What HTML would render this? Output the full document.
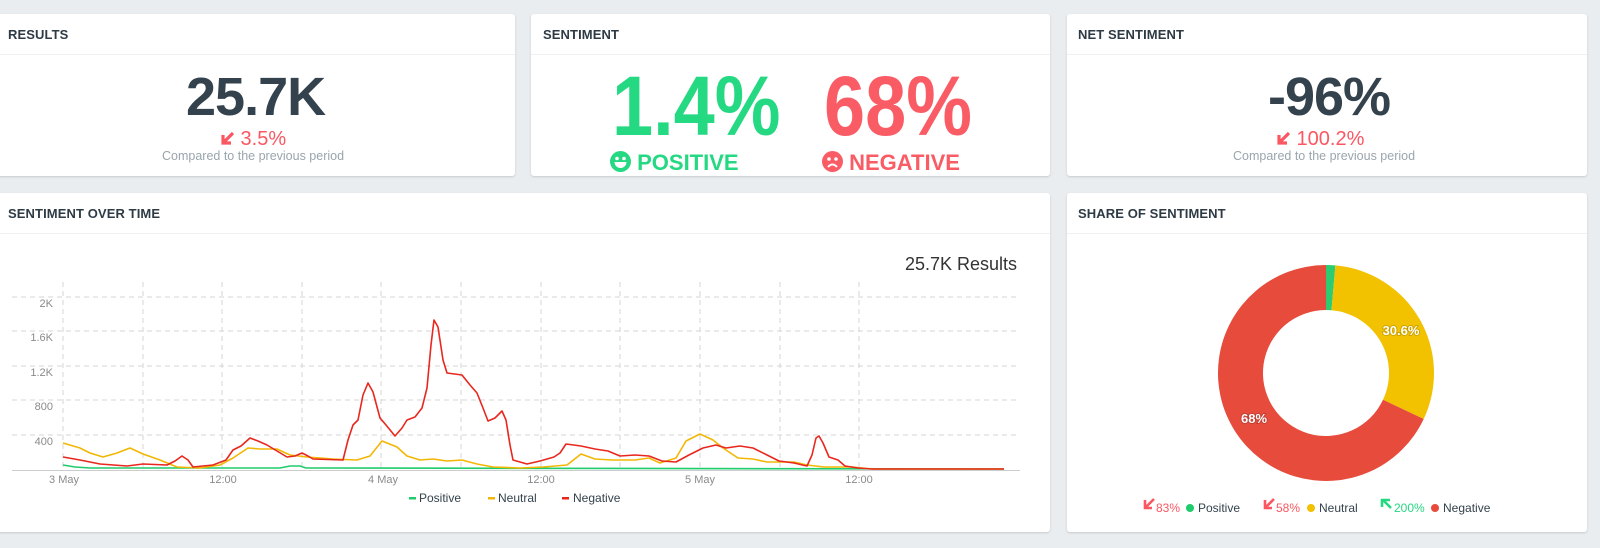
<!DOCTYPE html>
<html><head><meta charset="utf-8"><style>
*{margin:0;padding:0;box-sizing:border-box}
body{width:1600px;height:548px;background:#e9edf0;font-family:"Liberation Sans",sans-serif;position:relative;overflow:hidden}
.card{position:absolute;background:#fff;border-radius:3px;box-shadow:0 1px 2px rgba(0,0,0,.15)}
.hd{position:absolute;left:0;right:0;top:0;height:41px;border-bottom:1px solid #eef0f2}
.ttl{position:absolute;font-size:13px;font-weight:bold;color:#2e3b45;letter-spacing:.1px}
.abs{position:absolute;white-space:nowrap}
.big{font-weight:bold;color:#33424c;font-size:54px;letter-spacing:-1px}
.cmp{font-size:12.5px;color:#9aa5ae}
.chg{font-size:20px;color:#fa5762}
.huge{font-weight:bold;font-size:84px;transform:scaleX(0.88);transform-origin:0 0}
.lbl{font-size:22px;font-weight:bold}
</style></head><body>

<div class="card" style="left:-4px;top:14px;width:519px;height:162px"><div class="hd"></div></div>
<div class="card" style="left:531px;top:14px;width:519px;height:162px"><div class="hd"></div></div>
<div class="card" style="left:1067px;top:14px;width:520px;height:162px"><div class="hd"></div></div>
<div class="card" style="left:-4px;top:193px;width:1054px;height:339px"><div class="hd"></div></div>
<div class="card" style="left:1067px;top:193px;width:520px;height:339px"><div class="hd"></div></div>

<div class="ttl abs" style="left:8px;top:27px">RESULTS</div>
<div class="ttl abs" style="left:543px;top:27px">SENTIMENT</div>
<div class="ttl abs" style="left:1078px;top:27px">NET SENTIMENT</div>
<div class="ttl abs" style="left:8px;top:206px">SENTIMENT OVER TIME</div>
<div class="ttl abs" style="left:1078px;top:206px">SHARE OF SENTIMENT</div>

<!-- Results -->
<div class="abs big" style="left:186px;top:66px">25.7K</div>
<div class="abs chg" style="left:220px;top:128px"><svg width="15" height="15" viewBox="0 0 15 15" style="vertical-align:-1px"><path d="M13 2 L4 11 M3 4 V12 H11" stroke="#fa5762" stroke-width="3.2" fill="none"/></svg> 3.5%</div>
<div class="abs cmp" style="left:162px;top:149px">Compared to the previous period</div>

<!-- Sentiment -->
<div class="abs huge" style="left:612px;top:58px;color:#25d882">1.4%</div>
<div class="abs huge" style="left:824px;top:58px;color:#fa5c66">68%</div>
<div class="abs lbl" style="left:610px;top:150px;color:#25d882"><svg width="21" height="21" viewBox="0 0 21 21" style="vertical-align:-2px"><circle cx="10.5" cy="10.5" r="10.5" fill="#25d882"/><circle cx="7" cy="7.5" r="1.8" fill="#fff"/><circle cx="14" cy="7.5" r="1.8" fill="#fff"/><path d="M4.5 11 H16.5 A6 6 0 0 1 4.5 11Z" fill="#fff"/></svg> POSITIVE</div>
<div class="abs lbl" style="left:822px;top:150px;color:#fa5c66"><svg width="21" height="21" viewBox="0 0 21 21" style="vertical-align:-2px"><circle cx="10.5" cy="10.5" r="10.5" fill="#fa5c66"/><circle cx="7" cy="8" r="1.8" fill="#fff"/><circle cx="14" cy="8" r="1.8" fill="#fff"/><path d="M6 16 Q10.5 11 15 16" stroke="#fff" stroke-width="2" fill="none"/></svg> NEGATIVE</div>

<!-- Net -->
<div class="abs big" style="left:1268px;top:66px">-96%</div>
<div class="abs chg" style="left:1276px;top:128px"><svg width="15" height="15" viewBox="0 0 15 15" style="vertical-align:-1px"><path d="M13 2 L4 11 M3 4 V12 H11" stroke="#fa5762" stroke-width="3.2" fill="none"/></svg> 100.2%</div>
<div class="abs cmp" style="left:1233px;top:149px">Compared to the previous period</div>

<div class="abs" style="left:905px;top:254px;font-size:18px;color:#333">25.7K Results</div>

<svg class="abs" style="left:0;top:0" width="1600" height="548" viewBox="0 0 1600 548">
<g stroke="#d6d6d6" stroke-dasharray="5,4" stroke-width="1">
<path d="M12 297H1020M12 331H1020M12 366H1020M12 400H1020M12 435H1020"/>
<path d="M63 282V470M143 282V470M222 282V470M302 282V470M381 282V470M461 282V470M541 282V470M620 282V470M700 282V470M780 282V470M859 282V470"/>
</g>
<line x1="12" y1="470.5" x2="1020" y2="470.5" stroke="#ccc"/>
<g font-size="11" fill="#8a8a8a" text-anchor="end">
<text x="53" y="307">2K</text><text x="53" y="341">1.6K</text><text x="53" y="376">1.2K</text><text x="53" y="410">800</text><text x="53" y="445">400</text>
</g>
<g font-size="11" fill="#8a8a8a" text-anchor="middle">
<text x="64" y="483">3 May</text><text x="223" y="483">12:00</text><text x="383" y="483">4 May</text><text x="541" y="483">12:00</text><text x="700" y="483">5 May</text><text x="859" y="483">12:00</text>
</g>
<g fill="none" stroke-width="1.6" stroke-linejoin="round">
<path stroke="#1fcc6b" d="M63,465 L75,467 L90,468 L280,468 L290,466 L300,466 L306,468 L1004,469"/>
<path stroke="#f2b705" d="M63,443 L80,448 L90,453 L103,457 L117,453 L130,448 L143,454 L160,460 L177,467 L200,468 L220,465 L233,458 L248,448 L260,449 L277,449 L290,455 L307,457 L333,459 L357,460 L370,456 L382,441 L397,447 L407,456 L420,460 L433,459 L447,461 L462,460 L477,464 L493,467 L520,468 L543,467 L567,465 L581,454 L595,459 L612,460 L635,460 L649,458 L660,463 L676,458 L686,441 L700,434 L713,440 L723,448 L738,458 L753,459 L767,462 L794,462 L807,465 L824,467 L852,467 L872,469 L1004,469"/>
<path stroke="#e8271e" d="M63,457 L80,460 L100,464 L127,466 L143,464 L167,465 L175,461 L182,456 L188,460 L193,467 L213,465 L226,460 L233,450 L241,446 L250,438 L258,441 L267,445 L287,457 L295,456 L302,453 L308,456 L313,459 L343,460 L348,440 L353,425 L358,420 L363,395 L368,383 L373,392 L380,418 L386,425 L395,436 L402,428 L407,420 L415,417 L422,408 L427,388 L431,345 L434,320 L438,327 L443,360 L447,373 L462,375 L470,385 L477,393 L483,408 L488,421 L495,418 L502,411 L506,420 L510,445 L513,460 L527,464 L540,461 L554,457 L560,453 L566,444 L581,446 L595,449 L608,451 L620,456 L635,455 L649,456 L662,461 L676,462 L689,455 L703,448 L716,445 L726,448 L740,446 L753,448 L767,455 L779,461 L794,463 L807,466 L812,455 L816,438 L819,436 L823,443 L829,457 L838,460 L845,466 L858,468 L872,469 L1004,469"/>
</g>
<g font-size="12" fill="#33424c">
<rect x="409" y="497" width="7" height="2.5" fill="#1fcc6b"/><text x="419" y="502">Positive</text>
<rect x="488" y="497" width="7" height="2.5" fill="#f2b705"/><text x="498" y="502">Neutral</text>
<rect x="562" y="497" width="7" height="2.5" fill="#e8271e"/><text x="573" y="502">Negative</text>
</g>
<!-- donut -->
<path fill="#2ecc71" d="M1326,265 A108,108 0 0 1 1335.4,265.4 L1331.5,310.2 A63,63 0 0 0 1326,310 Z"/>
<path fill="#f2c200" d="M1335.4,265.4 A108,108 0 0 1 1423.7,419 L1383,399.8 A63,63 0 0 0 1331.5,310.2 Z"/>
<path fill="#e64b3c" d="M1423.7,419 A108,108 0 1 1 1326,265 L1326,310 A63,63 0 1 0 1383,399.8 Z"/>
<g font-size="13" font-weight="bold" fill="#fff" text-anchor="middle" style="paint-order:stroke" stroke="rgba(0,0,0,.15)" stroke-width="2">
<text x="1401" y="335">30.6%</text><text x="1254" y="423">68%</text>
</g>
<g font-size="12">
<path d="M1154 499 L1146 507 M1145 500 V508 H1152" stroke="#fa5762" stroke-width="2.6" fill="none"/>
<text x="1156" y="512" fill="#fa5762">83%</text>
<circle cx="1190" cy="508" r="4" fill="#1fcc6b"/><text x="1198" y="512" fill="#33424c">Positive</text>
<path d="M1274 499 L1266 507 M1265 500 V508 H1272" stroke="#fa5762" stroke-width="2.6" fill="none"/>
<text x="1276" y="512" fill="#fa5762">58%</text>
<circle cx="1311" cy="508" r="4" fill="#f2c200"/><text x="1319" y="512" fill="#33424c">Neutral</text>
<path d="M1383 500 L1391 508 M1382 507 V500 H1390" stroke="#25d882" stroke-width="2.6" fill="none"/>
<text x="1394" y="512" fill="#25d882">200%</text>
<circle cx="1435" cy="508" r="4" fill="#e64b3c"/><text x="1443" y="512" fill="#33424c">Negative</text>
</g>
</svg>
</body></html>
